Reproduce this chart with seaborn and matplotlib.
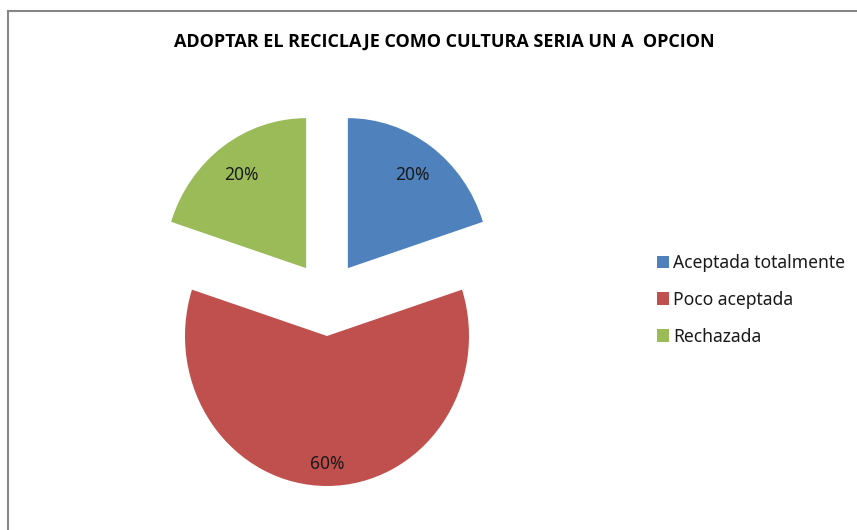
import numpy as np
import pandas as pd
import matplotlib
matplotlib.use("Agg")
import matplotlib.pyplot as plt
import seaborn as sns
from matplotlib.patches import Rectangle, Patch

categorias = ["Aceptada totalmente", "Poco aceptada", "Rechazada"]
porcentajes = [20, 60, 20]
colores = ["#4F81BD", "#C0504D", "#9BBB59"]
titulo = "ADOPTAR EL RECICLAJE COMO CULTURA SERIA UN A  OPCION"

sns.set_theme(style="white")
plt.rcParams["font.family"] = ["Noto Sans", "DejaVu Sans"]

df = pd.DataFrame({"categoria": categorias, "pct": porcentajes, "color": colores})

fig = plt.figure(figsize=(8.57, 5.30), dpi=100)
ax = fig.add_axes([0, 0, 1, 1])

wedges, texts = ax.pie(df["pct"], colors=df["color"], startangle=90, counterclock=False,
                       explode=[0.25] * len(df), radius=1.0,
                       wedgeprops=dict(linewidth=0))

# percentage labels, placed along each wedge's bisector
dist = [0.77, 0.85, 0.77]
for w, p, d in zip(wedges, df["pct"], dist):
    ang = np.deg2rad((w.theta1 + w.theta2) / 2)
    cx, cy = w.center
    ax.text(cx + d * np.cos(ang), cy + d * np.sin(ang), f"{p}%",
            ha="center", va="center", fontsize=12.5, color="#1a1a1a")

# pie centre sits at (327, 298) px, radius ~142 px wide and ~150 px tall
ax.set_aspect("auto")
ax.set_xlim(-327 / 142, (857 - 327) / 142)
ax.set_ylim(-(530 - 298.5) / 150, 298.5 / 150)
ax.axis("off")

fig.text(444 / 857, 1 - 42 / 530, titulo, ha="center", va="center",
         fontsize=13, fontweight="bold", color="black",
         family=["Open Sans", "DejaVu Sans"])

handles = [Patch(facecolor=c, edgecolor="none") for c in df["color"]]
fig.legend(handles, df["categoria"], loc="upper left",
           bbox_to_anchor=(648 / 857, 1 - 245 / 530), frameon=False,
           fontsize=12.6, handlelength=0.7, handleheight=0.7, handletextpad=0.25,
           labelspacing=1.08, borderpad=0, labelcolor="#1a1a1a")

fig.patches.append(Rectangle((8 / 857, -0.1), 1.2, 1 - 11 / 530 + 0.1,
                             transform=fig.transFigure, fill=False,
                             edgecolor="#868686", linewidth=1.5))

fig.savefig("out.png", dpi=100)
